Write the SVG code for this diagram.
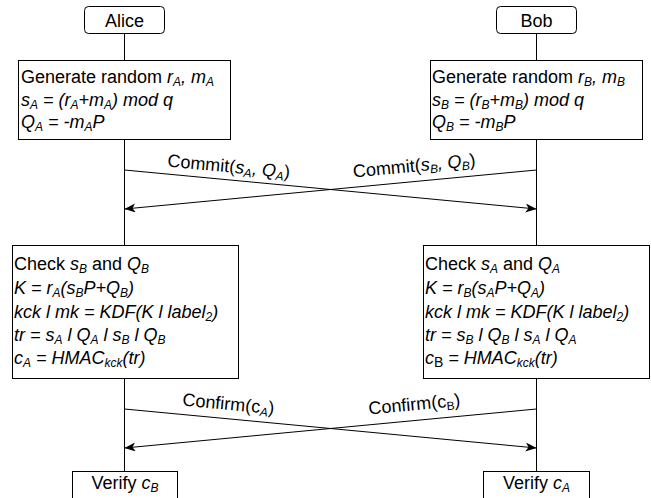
<svg xmlns="http://www.w3.org/2000/svg" width="651" height="498" viewBox="0 0 651 498">
<defs>
<style>
.box{fill:#fff;stroke:#000;stroke-width:1}
.ll{fill:none;stroke:#000;stroke-width:1}
.msg{fill:none;stroke:#000;stroke-width:1;marker-end:url(#arr)}
text{font-family:"Liberation Sans",Arial,Helvetica,sans-serif;font-size:18px;fill:#000}
.i{font-style:italic}
.n{font-style:normal}
.s{font-size:12px}
.c{text-anchor:middle}
</style>
<marker id="arr" markerUnits="userSpaceOnUse" markerWidth="12" markerHeight="10" refX="11" refY="4.5" orient="auto">
<path d="M0,0 L11,4.5 L0,9 L3,4.5 Z" fill="#000"/>
</marker>
</defs>
<rect width="651" height="498" fill="#fff"/>

<g id="lifelines">
<line class="ll" x1="124.5" y1="33.5" x2="124.5" y2="60.5"/>
<line class="ll" x1="124.5" y1="139.5" x2="124.5" y2="245.5"/>
<line class="ll" x1="124.5" y1="378.5" x2="124.5" y2="471.5"/>
<line class="ll" x1="536.5" y1="33.5" x2="536.5" y2="60.5"/>
<line class="ll" x1="536.5" y1="139.5" x2="536.5" y2="245.5"/>
<line class="ll" x1="536.5" y1="378.5" x2="536.5" y2="471.5"/>
</g>

<g id="alice">
<rect class="box" x="84.5" y="6.5" width="80" height="27" rx="4"/>
<text class="c" x="124.5" y="26.5">Alice</text>
</g>
<g id="bob">
<rect class="box" x="496.5" y="6.5" width="80" height="27" rx="4"/>
<text class="c" x="536.5" y="26.5">Bob</text>
</g>

<g id="alice-generate">
<rect class="box" x="18.5" y="60.5" width="212" height="79"/>
<text x="21" y="83">Generate random <tspan class="i">r</tspan><tspan class="i s" dy="3">A</tspan><tspan class="i" dy="-3">, m</tspan><tspan class="i s" dy="3">A</tspan></text>
<text class="i" x="21" y="105.5">s<tspan class="s" dy="3">A</tspan><tspan dy="-3"> = (r</tspan><tspan class="s" dy="3">A</tspan><tspan dy="-3">+m</tspan><tspan class="s" dy="3">A</tspan><tspan dy="-3">) mod q</tspan></text>
<text class="i" x="21" y="128">Q<tspan class="s" dy="3">A</tspan><tspan dy="-3"> = -m</tspan><tspan class="s" dy="3">A</tspan><tspan dy="-3">P</tspan></text>
</g>

<g id="bob-generate">
<rect class="box" x="430.5" y="60.5" width="212" height="79"/>
<text x="432" y="83">Generate random <tspan class="i">r</tspan><tspan class="i s" dy="3">B</tspan><tspan class="i" dy="-3">, m</tspan><tspan class="i s" dy="3">B</tspan></text>
<text class="i" x="432" y="105.5">s<tspan class="s" dy="3">B</tspan><tspan dy="-3"> = (r</tspan><tspan class="s" dy="3">B</tspan><tspan dy="-3">+m</tspan><tspan class="s" dy="3">B</tspan><tspan dy="-3">) mod q</tspan></text>
<text class="i" x="432" y="128">Q<tspan class="s" dy="3">B</tspan><tspan dy="-3"> = -m</tspan><tspan class="s" dy="3">B</tspan><tspan dy="-3">P</tspan></text>
</g>

<g id="alice-compute">
<rect class="box" x="12.5" y="245.5" width="226" height="133"/>
<text x="14" y="270">Check <tspan class="i">s</tspan><tspan class="i s" dy="3">B</tspan><tspan dy="-3"> and </tspan><tspan class="i">Q</tspan><tspan class="i s" dy="3">B</tspan></text>
<text class="i" x="14" y="294">K = r<tspan class="s" dy="3">A</tspan><tspan dy="-3">(s</tspan><tspan class="s" dy="3">B</tspan><tspan dy="-3">P+Q</tspan><tspan class="s" dy="3">B</tspan><tspan dy="-3">)</tspan></text>
<text class="i" x="14" y="317.5">kck l mk = KDF(K l label<tspan class="s" dy="3">2</tspan><tspan dy="-3">)</tspan></text>
<text class="i" x="14" y="341">tr = s<tspan class="s" dy="3">A</tspan><tspan dy="-3"> l Q</tspan><tspan class="s" dy="3">A</tspan><tspan dy="-3"> l s</tspan><tspan class="s" dy="3">B</tspan><tspan dy="-3"> l Q</tspan><tspan class="s" dy="3">B</tspan></text>
<text class="i" x="14" y="364">c<tspan class="s" dy="3">A</tspan><tspan dy="-3"> = HMAC</tspan><tspan class="s" dy="3">kck</tspan><tspan dy="-3">(tr)</tspan></text>
</g>

<g id="bob-compute">
<rect class="box" x="423.5" y="245.5" width="226" height="133"/>
<text x="425" y="270">Check <tspan class="i">s</tspan><tspan class="i s" dy="3">A</tspan><tspan dy="-3"> and </tspan><tspan class="i">Q</tspan><tspan class="i s" dy="3">A</tspan></text>
<text class="i" x="425" y="294">K = r<tspan class="s" dy="3">B</tspan><tspan dy="-3">(s</tspan><tspan class="s" dy="3">A</tspan><tspan dy="-3">P+Q</tspan><tspan class="s" dy="3">A</tspan><tspan dy="-3">)</tspan></text>
<text class="i" x="425" y="317.5">kck l mk = KDF(K l label<tspan class="s" dy="3">2</tspan><tspan dy="-3">)</tspan></text>
<text class="i" x="425" y="341">tr = s<tspan class="s" dy="3">B</tspan><tspan dy="-3"> l Q</tspan><tspan class="s" dy="3">B</tspan><tspan dy="-3"> l s</tspan><tspan class="s" dy="3">A</tspan><tspan dy="-3"> l Q</tspan><tspan class="s" dy="3">A</tspan></text>
<text class="i" x="425" y="364">c<tspan class="n" style="font-size:14px" dy="3">B</tspan><tspan dy="-3"> = HMAC</tspan><tspan class="s" dy="3">kck</tspan><tspan dy="-3">(tr)</tspan></text>
</g>

<g id="alice-verify">
<rect class="box" x="72.5" y="471.5" width="105" height="30"/>
<text class="c" x="125" y="489">Verify <tspan class="i">c</tspan><tspan class="i s" dy="3">B</tspan></text>
</g>
<g id="bob-verify">
<rect class="box" x="483.5" y="471.5" width="106" height="30"/>
<text class="c" x="536.5" y="489">Verify <tspan class="i">c</tspan><tspan class="i s" dy="3">A</tspan></text>
</g>

<g id="connectors">
<line class="msg" x1="124.5" y1="170" x2="536.5" y2="209"/>
<line class="msg" x1="536.5" y1="170" x2="124.5" y2="209"/>
<line class="msg" x1="124.5" y1="409" x2="536.5" y2="448"/>
<line class="msg" x1="536.5" y1="409" x2="124.5" y2="448"/>
<text transform="translate(167,166.5) rotate(5.41)">Commit(<tspan class="i">s</tspan><tspan class="i s" dy="3">A</tspan><tspan class="i" dy="-3">, Q</tspan><tspan class="i s" dy="3">A</tspan><tspan dy="-3">)</tspan></text>
<text transform="translate(353.5,177.5) rotate(-5.41)">Commit(<tspan class="i">s</tspan><tspan class="i s" dy="3">B</tspan><tspan class="i" dy="-3">, Q</tspan><tspan class="i s" dy="3">B</tspan><tspan dy="-3">)</tspan></text>
<text transform="translate(182,405.5) rotate(5.41)">Confirm(c<tspan class="i s" dy="3">A</tspan><tspan dy="-3">)</tspan></text>
<text transform="translate(369,414.5) rotate(-5.41)">Confirm(c<tspan class="s" dy="3">B</tspan><tspan dy="-3">)</tspan></text>
</g>
</svg>
